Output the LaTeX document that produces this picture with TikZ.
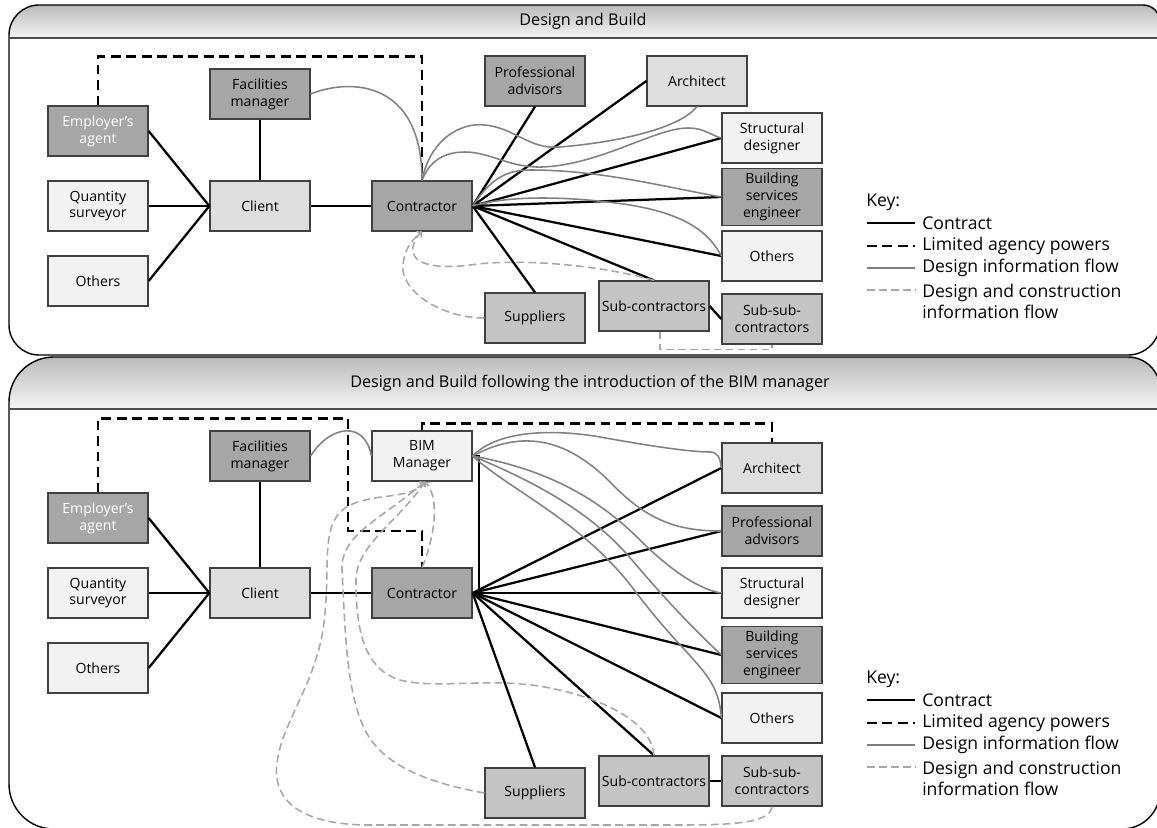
\documentclass[tikz,border=0pt]{standalone}
\usepackage{fontspec}
\setmainfont{Open Sans}
\usepackage{tikz}
\usetikzlibrary{calc}
\usetikzlibrary{arrows}
\usetikzlibrary{positioning}
\tikzset{party/.style={draw=black!75,line width=0.9pt,minimum width=2.5cm,minimum height=1.25cm,align=center,inner sep=2pt,font=\fontsize{10}{12}\selectfont}}
\tikzset{dark/.style={party,fill=black!35},mid/.style={party,fill=black!23},light/.style={party,fill=black!13},pale/.style={party,fill=black!5}}
\tikzset{contract/.style={line width=1.6pt,black},agency/.style={line width=1.8pt,black,dash pattern=on 7pt off 4pt}}
\tikzset{dinfo/.style={line width=1.1pt,black!50},dcinfo/.style={line width=1.1pt,black!35,dash pattern=on 5.5pt off 3pt}}
\tikzset{keytext/.style={font=\fontsize{12.5}{15}\selectfont,inner sep=0pt},titletext/.style={font=\fontsize{11.5}{14}\selectfont}}

\begin{document}
\begin{tikzpicture}[x=0.025cm,y=-0.025cm]
\useasboundingbox (0,0) rectangle (1157,828);

% panels
\shade[top color=black!27,bottom color=black!4] (9,38) -- (9,35) .. controls (9,18.5) and (22.5,5) .. (39,5) -- (1143,5) .. controls (1152.4,5) and (1160,12.6) .. (1160,22) -- (1160,38) -- cycle;
\draw[line width=1pt] (1160,22) .. controls (1160,12.6) and (1152.4,5) .. (1143,5) -- (39,5) .. controls (22.5,5) and (9,18.5) .. (9,35) -- (9,325) .. controls (9,341.5) and (22.5,355) .. (39,355) -- (1128,355) .. controls (1145.6,355) and (1160,340.6) .. (1160,323) -- cycle;
\draw[line width=1.6pt,black!70] (9,38) -- (1160,38);
\shade[top color=black!27,bottom color=black!4] (9,409) -- (9,402) .. controls (9,377) and (29,357) .. (54,357) -- (1128,357) .. controls (1145.6,357) and (1160,371.4) .. (1160,389) -- (1160,409) -- cycle;
\draw[line width=1pt] (1128,357) -- (54,357) .. controls (29,357) and (9,377) .. (9,402) -- (9,784) .. controls (9,809) and (29,829) .. (54,829) -- (1122,829) .. controls (1143,829) and (1160,812) .. (1160,791) -- (1160,389) .. controls (1160,371.4) and (1145.6,357) .. (1128,357) -- cycle;
\draw[line width=1.6pt,black!70] (9,409) -- (1160,409);
\node[titletext] (t1) at (583,21) {Design and Build};
\node[titletext] (t2) at (590,383) {Design and Build following the introduction of the BIM manager};

\node[dark,text=white] (ea1) at (98,131) {Employer's\\agent};
\node[pale] (qs1) at (98,206) {Quantity\\surveyor};
\node[pale] (ot1) at (98,281) {Others};
\node[dark] (fm1) at (260,94) {Facilities\\manager};
\node[light] (cl1) at (260,206) {Client};
\node[dark] (co1) at (422,206) {Contractor};
\node[dark] (pa1) at (535,81) {Professional\\advisors};
\node[light] (ar1) at (697,81) {Architect};
\node[pale] (sd1) at (772,138) {Structural\\designer};
\node[dark,minimum height=1.42cm] (bs1) at (772,197) {Building\\services\\engineer};
\node[pale] (or1) at (772,256) {Others};
\node[mid] (su1) at (535,318) {Suppliers};
\node[mid] (sc1) at (654,306) {Sub-contractors};
\node[mid] (ss1) at (772,319) {Sub-sub-\\contractors};

\foreach \n in {ea1,qs1,ot1}
	\draw[contract] (\n.east) -- (cl1.west);
\draw[contract] (fm1) -- (cl1);
\draw[contract] (cl1) -- (co1);
\foreach \n in {pa1.south,ar1.west,sd1.west,bs1.west,or1.west,sc1.north,su1.north}
	\draw[contract] (co1.east) -- (\n);
\draw[contract] (sc1.east) -- (ss1.west);
\draw[agency] (ea1.north) -- ++(0,-49) -| (co1.north);

\draw[dinfo] (fm1.east) .. controls (350,78) and (422,80) .. (co1.north);
\draw[dinfo] (co1.north) .. controls (430,140) and (460,122) .. (485,125) .. controls (515,128) and (530,150) .. (560,147) .. controls (620,142) and (680,128) .. (ar1.south);
\draw[dinfo] (co1.north) .. controls (430,160) and (445,152) .. (465,152) .. controls (490,152) and (510,168) .. (542,167) .. controls (600,165) and (655,128) .. (688,128) .. controls (705,128) and (712,136) .. (sd1.west);
\draw[dinfo] (co1.east) .. controls (490,180) and (505,170) .. (530,170) .. controls (600,170) and (660,186) .. (bs1.west);
\draw[dinfo] (co1.east) .. controls (510,195) and (570,196) .. (630,205) .. controls (690,215) and (710,235) .. (or1.west);

\draw[dcinfo,->] (su1.west) .. controls (440,318) and (400,290) .. (403,265) .. controls (405,245) and (415,238) .. (co1.south);
\draw[dcinfo,->] (sc1.north) .. controls (600,265) and (520,258) .. (470,265) .. controls (430,270) and (410,262) .. (413,247) .. controls (414,240) and (418,235) .. (co1.south);
\draw[dcinfo] ($(sc1.south)+(6,0)$) -- ++(0,18) -| (ss1.south);

% with the BIM manager
\node[dark,text=white] (ea2) at (98,518) {Employer's\\agent};
\node[pale] (qs2) at (98,593) {Quantity\\surveyor};
\node[pale] (ot2) at (98,668) {Others};
\node[dark] (fm2) at (260,456) {Facilities\\manager};
\node[light] (cl2) at (260,593) {Client};
\node[pale] (bm2) at (422,456) {BIM\\Manager};
\node[dark] (co2) at (422,593) {Contractor};
\node[light] (ar2) at (772,468) {Architect};
\node[dark] (pa2) at (772,531) {Professional\\advisors};
\node[pale] (sd2) at (772,593) {Structural\\designer};
\node[dark,minimum height=1.42cm] (bs2) at (772,655) {Building\\services\\engineer};
\node[pale] (or2) at (772,718) {Others};
\node[mid] (su2) at (535,793) {Suppliers};
\node[mid] (sc2) at (654,781) {Sub-contractors};
\node[mid] (ss2) at (772,781) {Sub-sub-\\contractors};
\coordinate (bmin) at ($(bm2.south)+(3,0)$);

\foreach \n in {ea2,qs2,ot2}
	\draw[contract] (\n.east) -- (cl2.west);
\draw[contract] (fm2) -- (cl2);
\draw[contract] (cl2) -- (co2);
\foreach \n in {ar2.west,pa2.west,sd2.west,bs2.west,or2.west,sc2.north,su2.north}
	\draw[contract] (co2.east) -- (\n);
\draw[contract] (sc2) -- (ss2);
\draw[contract] (bm2.east) -- ++(6,0) |- (co2.east);
\draw[agency] (ea2.north) -- ++(0,-74) -| (348,531) -| (co2.north);
\draw[agency] (bm2.north) -- ++(0,-7) -| (ar2.north);

\draw[dinfo] (fm2.east) .. controls (330,425) and (365,420) .. (bm2.west);
\draw[dinfo] (bm2.east) .. controls (500,428) and (560,430) .. (600,437) .. controls (650,446) and (690,452) .. (710,452) .. controls (718,452) and (720,458) .. (ar2.west);
\draw[dinfo] (bm2.east) .. controls (530,425) and (575,445) .. (615,487) .. controls (650,522) and (680,531) .. (pa2.west);
\draw[dinfo] (bm2.east) .. controls (550,470) and (600,500) .. (640,540) .. controls (670,570) and (700,590) .. (sd2.west);
\draw[dinfo] (bm2.east) .. controls (530,480) and (590,510) .. (632,560) .. controls (670,605) and (700,635) .. (bs2.west);
\draw[dinfo] (bm2.east) .. controls (510,490) and (580,520) .. (632,587) .. controls (690,665) and (718,670) .. (or2.west);

\draw[dcinfo,->] (co2.north) .. controls (432,545) and (442,500) .. (bmin);
\draw[dcinfo,->] (su2.west) .. controls (440,785) and (385,770) .. (365,730) .. controls (345,690) and (345,620) .. (342,570) .. controls (340,535) and (380,520) .. (bmin);
\draw[dcinfo,->] (sc2.north) .. controls (652,725) and (610,700) .. (550,688) .. controls (490,676) and (440,690) .. (400,680) .. controls (360,668) and (356,620) .. (356,580) .. controls (356,545) and (400,520) .. (bmin);
\draw[dcinfo,->] (ss2.south) .. controls (770,822) and (740,825) .. (680,825) -- (370,825) .. controls (300,825) and (272,800) .. (277,763) .. controls (282,720) and (320,680) .. (325,613) .. controls (330,560) and (320,520) .. (350,505) .. controls (380,492) and (410,500) .. (bmin);

% keys
\foreach \o in {0,477} {
	\node[keytext,anchor=west] (k\o) at (866,202+\o) {Key:};
	\node[keytext,anchor=west] (kc\o) at (922,223+\o) {Contract};
	\node[keytext,anchor=west] (ka\o) at (922,246+\o) {Limited agency powers};
	\node[keytext,anchor=west] (kd\o) at (922,268+\o) {Design information flow};
	\node[keytext,anchor=west,align=left] (kb\o) at (922,301+\o) {Design and construction\\information flow};
	\draw[contract] (867,223+\o) -- (915,223+\o);
	\draw[agency] (867,246+\o) -- (915,246+\o);
	\draw[dinfo] (867,268+\o) -- (915,268+\o);
	\draw[dcinfo] (867,290+\o) -- (915,290+\o);
}
\end{tikzpicture}
\end{document}
